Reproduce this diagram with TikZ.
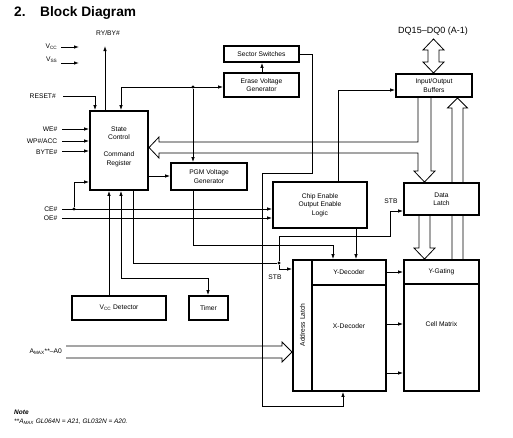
\documentclass[tikz,border=0pt]{standalone}
\usepackage{fontspec}
\setmainfont{Liberation Sans}
\usetikzlibrary{arrows.meta}
\pgfdeclarelayer{bg}
\pgfsetlayers{bg,main}
\begin{document}
\begin{tikzpicture}[x=1pt,y=-1pt,
  box/.style={draw, line width=1.8pt, fill=white, inner sep=0pt, align=center, font=\fontsize{6.7}{8.5}\selectfont},
  txt/.style={inner sep=0pt, align=center, font=\fontsize{6.7}{8.5}\selectfont},
  lbl/.style={inner sep=0pt, font=\fontsize{6.7}{8}\selectfont},
  wire/.style={line width=0.8pt},
  arr/.style={wire, -{Latex[length=5pt,width=3.5pt]}},
  darr/.style={wire, {Latex[length=5pt,width=3.5pt]}-{Latex[length=5pt,width=3.5pt]}},
  bus/.style={line width=0.8pt, line join=miter},
  dot/.style={circle, fill, inner sep=0pt, minimum size=3.4pt},
  ttl/.style={anchor=base west, inner sep=0pt, font=\fontsize{13.7}{15}\selectfont\bfseries}
]
\useasboundingbox (0,0) rectangle (513,437);

% title
\node[ttl] (tnum) at (14,16) {2.};
\node[ttl] (ttext) at (40,16) {Block Diagram};

% boxes
\node[box, minimum width=58pt, minimum height=79pt] (state) at (119,150.5) {};
\node[txt] (statetxt) at (119,146.5) {State\\Control\\\mbox{}\\Command\\Register};
\node[box, minimum width=75pt, minimum height=16pt] (sector) at (261.5,54) {Sector Switches};
\node[box, minimum width=75pt, minimum height=24pt] (erase) at (261.5,85) {Erase Voltage\\Generator};
\node[box, minimum width=76pt, minimum height=27pt] (pgm) at (209,176.5) {PGM Voltage\\Generator};
\node[box, minimum width=94pt, minimum height=46pt] (ce) at (320,205) {Chip Enable\\Output Enable\\Logic};
\node[box, minimum width=76pt, minimum height=23pt] (io) at (434,85.5) {Input/Output\\Buffers};
\node[box, minimum width=75pt, minimum height=32pt] (latch) at (441.5,199) {Data\\Latch};
\node[box, minimum width=19pt, minimum height=131pt] (addr) at (302.5,325.5) {};
\node[txt, rotate=90] (addrtxt) at (302.5,325) {Address Latch};
\node[box, minimum width=74pt, minimum height=25pt] (ydec) at (349,272.5) {Y-Decoder};
\node[box, minimum width=74pt, minimum height=106pt] (xdec) at (349,338) {};
\node[txt] (xdectxt) at (349,326) {X-Decoder};
\node[box, minimum width=75pt, minimum height=24pt] (ygate) at (441.5,272) {Y-Gating};
\node[box, minimum width=75pt, minimum height=107pt] (cell) at (441.5,337.5) {};
\node[txt] (celltxt) at (441.5,324) {Cell Matrix};
\node[box, minimum width=94pt, minimum height=24pt] (vccd) at (119,308) {V\textsubscript{CC} Detector};
\node[box, minimum width=39pt, minimum height=24pt] (timer) at (208.5,308) {Timer};

% labels
\node[lbl, anchor=east] (vcc) at (57.5,47) {V\textsubscript{CC}};
\node[lbl, anchor=east] (vss) at (57.5,60) {V\textsubscript{SS}};
\node[lbl, anchor=east] (reset) at (56,96) {RESET\#};
\node[lbl, anchor=east] (we) at (57.5,129) {WE\#};
\node[lbl, anchor=east] (wp) at (57.5,141) {WP\#/ACC};
\node[lbl, anchor=east] (byte) at (57.5,152) {BYTE\#};
\node[lbl, anchor=east] (cel) at (57.5,209) {CE\#};
\node[lbl, anchor=east] (oel) at (57.5,218) {OE\#};
\node[lbl, anchor=east] (amax) at (62,352) {A\textsubscript{MAX}**–A0};
\node[lbl] (ryby) at (108,33) {RY/BY\#};
\node[lbl, font=\fontsize{9}{10}\selectfont] (dq) at (433,31) {DQ15–DQ0 (A-1)};
\node[lbl] (stba) at (275,277) {STB};
\node[lbl] (stbb) at (391,201) {STB};

% free ends
\coordinate (vccS) at (61,47);  \coordinate (vccE) at (79,47);
\coordinate (vssS) at (61,63);  \coordinate (vssE) at (79,63);
\coordinate (rstS) at (63,96);
\coordinate (weS) at (62,129);
\coordinate (wpS) at (62,141);
\coordinate (byS) at (62,151);
\coordinate (ceS) at (62,209);
\coordinate (oeS) at (62,218);
\coordinate (ryE) at (105,46);

% inputs
\draw[arr] (vccS) -- (vccE);
\draw[arr] (vssS) -- (vssE);
\draw[arr] (rstS) -| (95,0 |- state.north);
\draw[arr] (105,0 |- state.north) -- (ryE);
\draw[arr] (weS) -- (state.west |- weS);
\draw[arr] (wpS) -- (state.west |- wpS);
\draw[arr] (byS) -- (state.west |- byS);
\draw[arr] (ceS) -- (ce.west |- ceS);
\draw[arr] (oeS) -- (ce.west |- oeS);
\node[dot] (d2) at (74,209) {};
\draw[arr] (d2) |- (state.west |- 0,182);

% erase / sector
\draw[darr] (121,0 |- state.north) |- (erase.west |- 0,87);
\node[dot] (d1) at (193,87) {};
\draw[arr] (d1) -- (193,0 |- pgm.north);
\draw[arr] (262,0 |- erase.north) -- (262,0 |- sector.south);
\draw[arr] (sector.east |- 0,54) -| (312,173) -| (262,406) -| (343,0 |- xdec.south);

% CE -> IO
\draw[arr] (338,0 |- ce.north) |- (io.west |- 0,90);

% state -> pgm
\draw[arr] (state.east |- 0,176) -- (pgm.west |- 0,176);

% bottom of state
\draw[arr] (109,0 |- vccd.north) -- (109,0 |- state.south);
\draw[darr] (121,0 |- state.south) |- (208,278) -- (208,0 |- timer.north);
\node[dot] (d3) at (279,263) {};
\draw[wire] (133,0 |- state.south) |- (d3);
\draw[arr] (d3) |- (addr.west |- 0,269);
\draw[arr] (d3) |- (390,236) |- (latch.west |- 0,211);

% PGM -> Y-decoder, CE -> Y-decoder
\draw[arr] (193,0 |- pgm.south) |- (333,245) -- (333,0 |- ydec.north);
\draw[arr] (356,0 |- ce.south) -- (356,0 |- ydec.north);

% decoders -> matrix
\draw[arr] (ydec.east |- 0,272) -- (ygate.west |- 0,272);
\draw[arr] (xdec.east |- 0,324) -- (cell.west |- 0,324);
\draw[arr] (xdec.east |- 0,373) -- (cell.west |- 0,373);

% buses
\begin{pgfonlayer}{bg}
\draw[bus] (452,0 |- ygate.north) -- (452,108) -- (447.5,108) -- (457.5,98) -- (467.5,108) -- (463,108) -- (463,0 |- ygate.north);
\end{pgfonlayer}
\draw[bus] (418,0 |- io.south) -- (418,142) -- (159,142) -- (159,137) -- (149,147.5) -- (159,158) -- (159,153) -- (418,153) -- (418,171) -- (414,171) -- (424.5,182) -- (435,171) -- (431,171) -- (431,0 |- io.south);
\draw[bus] (419,0 |- latch.south) -- (419,248) -- (414,248) -- (424.5,259) -- (435,248) -- (430,248) -- (430,0 |- latch.south);
\draw[bus] (428,50) -- (423,50) -- (433.5,39) -- (444,50) -- (439,50) -- (439,62) -- (444,62) -- (433.5,73) -- (423,62) -- (428,62) -- cycle;
\draw[bus] (66,346) -- (282,346) -- (282,342) -- (292,352) -- (282,362) -- (282,358) -- (66,358);

% note
\node[anchor=base west, inner sep=0pt, font=\fontsize{6.5}{7}\selectfont\bfseries\itshape] (note) at (14,414) {Note};
\node[anchor=base west, inner sep=0pt, font=\fontsize{6.5}{7}\selectfont\itshape] (notetxt) at (14,423) {**A\textsubscript{MAX} GL064N = A21, GL032N = A20.};
\end{tikzpicture}
\end{document}
